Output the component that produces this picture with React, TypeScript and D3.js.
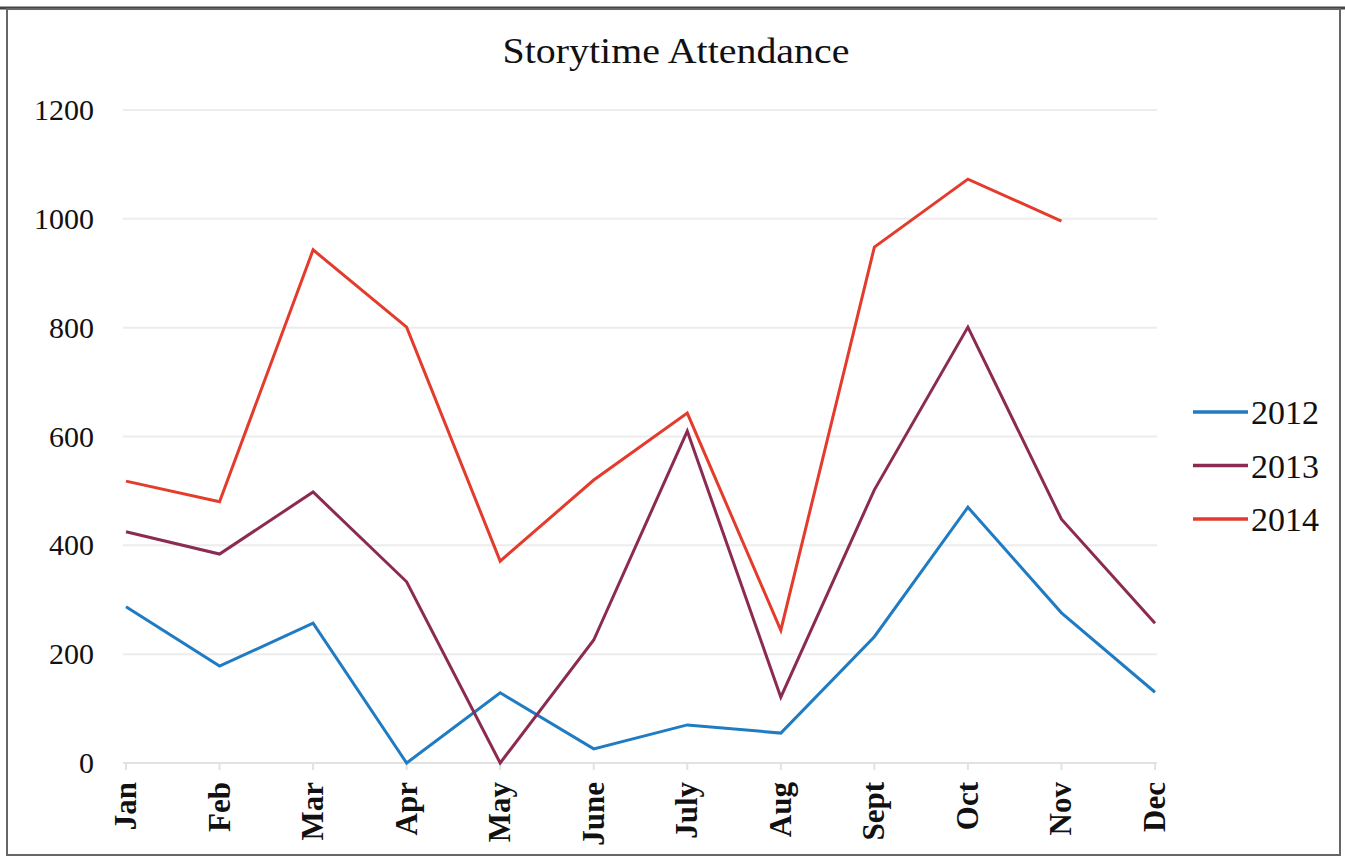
import React from "react";
import * as d3 from "d3";

const months = ["Jan","Feb","Mar","Apr","May","June","July","Aug","Sept","Oct","Nov","Dec"];
const y2012 = [287, 178, 257, 0, 129, 26, 70, 55, 232, 470, 276, 130];
const y2013 = [425, 384, 498, 333, 0, 226, 610, 121, 502, 801, 448, 257];
const y2014: (number | null)[] = [518, 480, 943, 801, 371, 520, 643, 244, 948, 1073, 996, null];
const yTicks = [0, 200, 400, 600, 800, 1000, 1200];
const seriesNames = ["2012", "2013", "2014"];
const seriesColors = ["#1f7bc2", "#8c2b52", "#e33b2c"];

export default function App() {
  const W = 1345, H = 858;
  const x = d3.scalePoint<string>().domain(months).range([126, 1155]);
  const y = d3.scaleLinear().domain([0, 1200]).range([763, 110]);
  const series = [y2012, y2013, y2014];
  const line = d3
    .line<number | null>()
    .defined((d) => d !== null)
    .x((_, i) => x(months[i]) as number)
    .y((d) => y(d as number));
  const font = "'Liberation Serif', 'DejaVu Serif', serif";
  return (
    <svg width={W} height={H} style={{ position: "absolute", left: 0, top: 0, background: "#fff" }}>
      <rect x={0} y={0} width={W} height={H} fill="#fff" />
      <line x1={0} x2={W} y1={8} y2={8} stroke="#444" strokeWidth={3} />
      <rect x={7} y={9} width={1333} height={846} fill="none" stroke="#666" strokeWidth={2} />
      <text x={676} y={63} textAnchor="middle" fontFamily={font} fontSize={36} textLength={347} lengthAdjust="spacingAndGlyphs" fill="#111">
        Storytime Attendance
      </text>
      {yTicks.map((t) => (
        <g key={t}>
          {t > 0 && (
            <line x1={123} x2={1157} y1={y(t)} y2={y(t)} stroke="#ececec" strokeWidth={2} />
          )}
          <text x={94} y={y(t) + 10} textAnchor="end" fontFamily={font} fontSize={30} fill="#111">
            {t}
          </text>
        </g>
      ))}
      <line x1={123} x2={1157} y1={y(0)} y2={y(0)} stroke="#e2e2e2" strokeWidth={2} />
      {months.map((m) => (
        <g key={m}>
          <line x1={x(m)} x2={x(m)} y1={y(0)} y2={y(0) + 7} stroke="#e2e2e2" strokeWidth={2} />
          <text
            transform={`translate(${(x(m) as number) + 10},${y(0) + 19}) rotate(-90)`}
            textAnchor="end"
            fontFamily={font}
            fontWeight="bold"
            fontSize={31}
            fill="#111"
          >
            {m}
          </text>
        </g>
      ))}
      {series.map((s, i) => (
        <path key={i} d={line(s) || ""} fill="none" stroke={seriesColors[i]} strokeWidth={3} strokeLinejoin="miter" />
      ))}
      {seriesNames.map((n, i) => (
        <g key={n}>
          <line x1={1193} x2={1248} y1={412 + i * 53.5} y2={412 + i * 53.5} stroke={seriesColors[i]} strokeWidth={3.5} />
          <text x={1251} y={412 + i * 53.5 + 12} fontFamily={font} fontSize={34} fill="#111">
            {n}
          </text>
        </g>
      ))}
    </svg>
  );
}
